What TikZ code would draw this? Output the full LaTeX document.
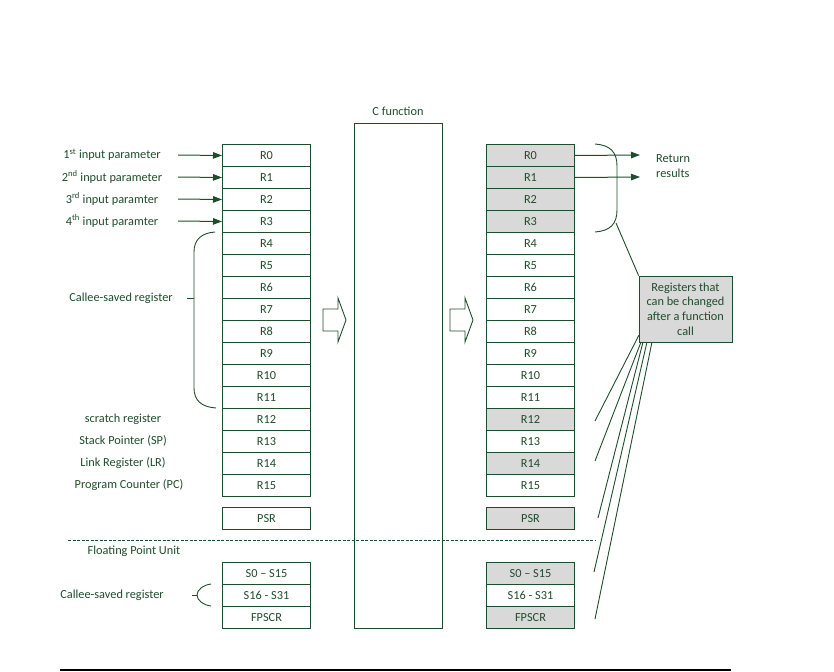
\documentclass[tikz,border=0pt]{standalone}
\usepackage{fontspec}
\setmainfont{Carlito}
\usetikzlibrary{arrows.meta}
\definecolor{dg}{HTML}{1E4D2B}
\definecolor{gf}{HTML}{D9D9D9}
\begin{document}
\begin{tikzpicture}[x=1pt,y=-1pt,
  font=\fontsize{12.3}{14.6}\selectfont, text=dg,
  reg/.style={draw=dg, line width=1pt, minimum width=88pt, minimum height=22pt, inner sep=0pt, anchor=north west},
  greg/.style={reg, fill=gf},
  lbl/.style={inner sep=0pt, anchor=center},
  arr/.style={draw=dg, line width=1pt, -{Triangle[length=9pt,width=6.5pt]}},
  ln/.style={draw=dg, line width=0.9pt},
  blockarr/.style={draw=dg, line width=0.9pt, fill=white}]
\useasboundingbox (0,0) rectangle (834,671);

% left register column
\foreach \i in {0,...,15} {
  \node[reg] (L\i) at (222,{144+22*\i}) {R\i};
}
\node[reg] (Lpsr) at (222,507) {PSR};
\node[reg] (Ls0) at (222,562) {S0 -- S15};
\node[reg] (Ls16) at (222,584) {S16 - S31};
\node[reg] (Lfp) at (222,606) {FPSCR};

% right register column
\foreach \i/\s in {0/greg,1/greg,2/greg,3/greg,4/reg,5/reg,6/reg,7/reg,8/reg,9/reg,10/reg,11/reg,12/greg,13/reg,14/greg,15/reg} {
  \node[\s] (Rr\i) at (486,{144+22*\i}) {R\i};
}
\node[greg] (Rpsr) at (486,507) {PSR};
\node[greg] (Rs0) at (486,562) {S0 -- S15};
\node[reg] (Rs16) at (486,584) {S16 - S31};
\node[greg] (Rfp) at (486,606) {FPSCR};

% C function
\node[draw=dg, line width=1pt, minimum width=88pt, minimum height=505pt, inner sep=0pt, anchor=north west] (cf) at (354,123) {};
\node[lbl] (cft) at (398,111) {C function};

% input parameter labels and arrows
\node[lbl] (p1) at (112,155) {1\textsuperscript{st} input parameter};
\node[lbl] (p2) at (112,177) {2\textsuperscript{nd} input parameter};
\node[lbl] (p3) at (112,199) {3\textsuperscript{rd} input paramter};
\node[lbl] (p4) at (112,221) {4\textsuperscript{th} input paramter};
\foreach \i/\y in {0/155,1/177,2/199,3/221} {
  \coordinate (a\i) at (178,\y);
  \draw[arr] (a\i) -- (L\i.west);
}

% callee-saved brace
\draw[ln] (215,232) .. controls (201,233) and (194,240) .. (194,252) -- (194,388) .. controls (194,400) and (201,407) .. (216,408);
\draw[ln] (187,298) -- (194,298);
\node[lbl] (cs1) at (121,298) {Callee-saved register};

\node[lbl] (scr) at (123,419) {scratch register};
\node[lbl] (sp) at (123,441) {Stack Pointer (SP)};
\node[lbl] (lr) at (123,463) {Link Register (LR)};
\node[lbl] (pc) at (129,485) {Program Counter (PC)};

% dashed FPU separator
\draw[draw=dg, line width=0.8pt, dash pattern=on 3pt off 1.5pt] (68,540) -- (596,540);
\node[lbl] (fpu) at (134,551) {Floating Point Unit};

% lower callee-saved bracket
\draw[ln] (211,584) .. controls (203,585) and (197,590) .. (197,595) .. controls (197,600) and (203,605) .. (211,606);
\draw[ln] (192,595) -- (197,595);
\node[lbl] (cs2) at (112,595) {Callee-saved register};

% block arrows
\draw[blockarr] (323,309) -- (338,309) -- (338,298) -- (346,320) -- (338,342) -- (338,331) -- (323,331) -- cycle;
\draw[blockarr] (450,309) -- (465,309) -- (465,298) -- (473,320) -- (465,342) -- (465,331) -- (450,331) -- cycle;

% return results
\coordinate (ret0) at (640,155);
\coordinate (ret1) at (640,177);
\draw[arr] (Rr0.east) -- (ret0);
\draw[arr] (Rr1.east) -- (ret1);
\node[anchor=west, align=left, inner sep=0pt] (rr) at (656,166) {Return\\results};

% right brace
\draw[ln] (595,144) .. controls (610,145) and (617,152) .. (617,166) -- (617,210) .. controls (617,224) and (610,231) .. (595,232);

% changed registers box
\node[draw=dg, line width=0.8pt, fill=gf, minimum width=93pt, minimum height=66pt, inner sep=0pt, align=center] (chg) at (685.5,309) {Registers that\\can be changed\\after a function\\call};
\coordinate (bt) at (616,223);
\draw[ln] (bt) -- (chg.north west);

\coordinate (c1) at (595,421);
\coordinate (c2) at (595,461);
\coordinate (c3) at (598,518);
\coordinate (c4) at (594,572);
\coordinate (c5) at (595,619);
\coordinate (s1) at (639,335);
\coordinate (s2) at (641,342);
\coordinate (s3) at (643,342);
\coordinate (s4) at (647,342);
\coordinate (s5) at (652,342);
\foreach \k in {1,...,5} { \draw[ln] (s\k) -- (c\k); }

% bottom rule
\draw[black, line width=1.3pt] (60,670) -- (731,670);
\end{tikzpicture}
\end{document}
